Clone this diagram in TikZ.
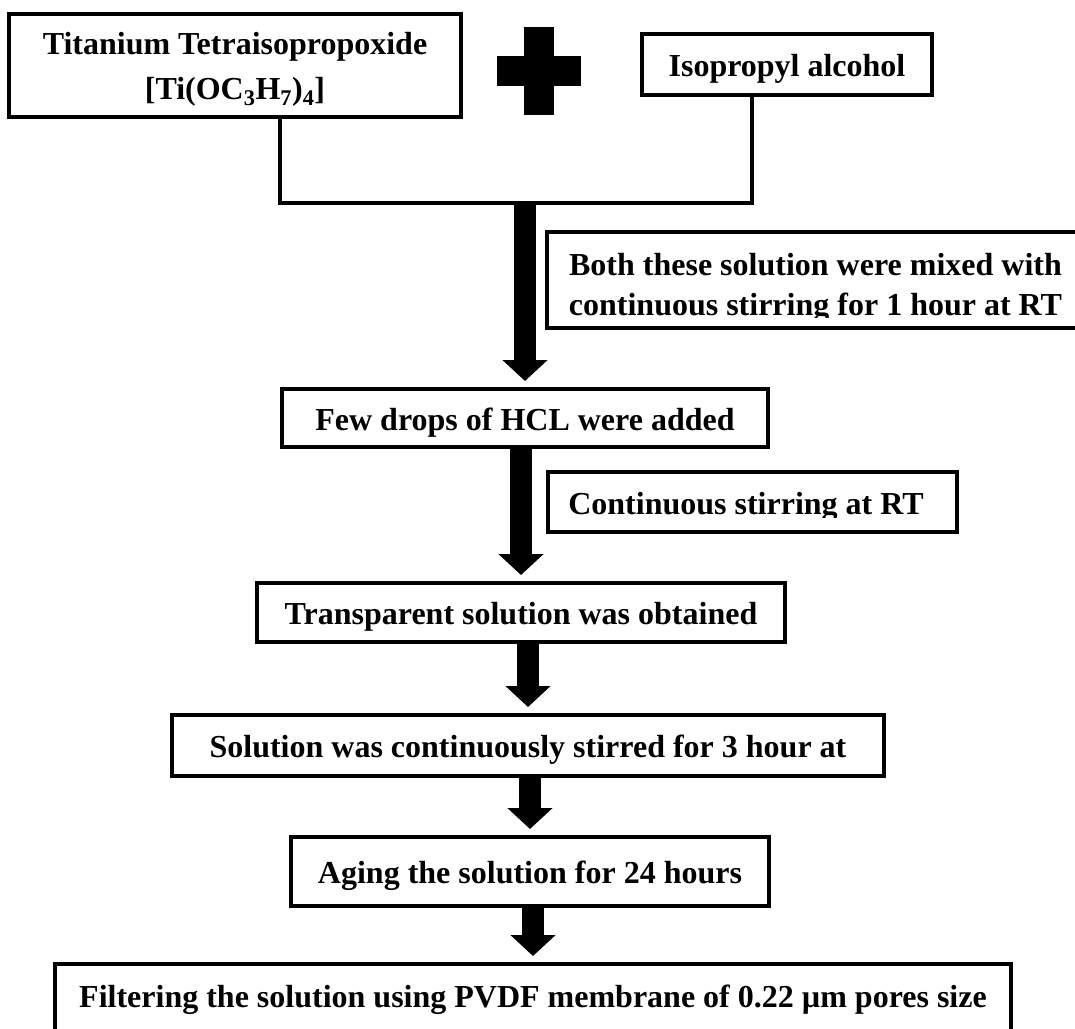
\documentclass[tikz,border=0pt]{standalone}
\usepackage{fontspec}
\setmainfont{Liberation Serif}
\usetikzlibrary{arrows.meta}

\begin{document}
\begin{tikzpicture}[x=1pt, y=-1pt,
    every node/.style={font=\fontsize{32}{45}\selectfont\bfseries},
    stepbox/.style={draw=black, line width=4pt, shape=rectangle, inner sep=0pt, align=center},
    oneline/.style={text height=24pt, text depth=0pt},
    notetext/.style={inner sep=0pt, align=center, font=\fontsize{32}{40}\selectfont\bfseries},
    link/.style={draw=black, line width=3.5pt},
    bigarrow/.style={line width=22pt, -{Triangle[width=44pt,length=21pt]}, shorten >=6pt}]
  \useasboundingbox (0,0) rectangle (1075,1028);
  \clip (0,0) rectangle (1075,1028);

  % starting materials
  \node[stepbox, minimum width=452pt, minimum height=103pt] (titp) at (235,65.5)
    {\rule{0pt}{29pt}Titanium Tetraisopropoxide\\ {[}Ti(OC\textsubscript{3}H\textsubscript{7})\textsubscript{4}]};
  \node[stepbox, oneline, minimum width=290pt, minimum height=61pt] (ipa) at (787,64.5) {Isopropyl alcohol};
  \fill (524,27) rectangle (554,115);
  \fill (497,56) rectangle (581,86);

  \coordinate (jl) at (280,203);
  \coordinate (jr) at (752,203);
  \draw[link] (titp.south -| jl) -- (jl) -- (jr) -- (ipa.south -| jr);

  % process steps
  \node[stepbox, oneline, minimum width=486pt, minimum height=58pt] (hcl) at (525,418) {Few drops of HCL were added};
  \node[stepbox, oneline, minimum width=528pt, minimum height=59pt] (trans) at (521,612.5) {Transparent solution was obtained};
  \node[stepbox, oneline, minimum width=712pt, minimum height=61pt] (stir3) at (528,745.5) {Solution was continuously stirred for 3 hour at};
  \node[stepbox, oneline, minimum width=478pt, minimum height=69pt] (aging) at (530,871.5) {Aging the solution for 24 hours};
  \node[stepbox, text height=0pt, text depth=10pt, minimum width=956pt, minimum height=96pt] (filt) at (533,1012)
    {Filtering the solution using PVDF membrane of 0.22 µm pores size};

  % side notes
  \node[stepbox, minimum width=537pt, minimum height=96pt] (mixnote) at (815.5,280) {};
  \begin{scope}
    \clip (mixnote.north west) rectangle (1075,317);
    \node[notetext, anchor=north] (mixtext) at (815.5,253.5)
      {Both these solution were mixed with\\continuous stirring for 1 hour at RT};
  \end{scope}
  \node[stepbox, minimum width=409pt, minimum height=60pt] (rtnote) at (752.5,502) {};
  \begin{scope}
    \clip (rtnote.north west) rectangle (rtnote.east |- 0,517);
    \node[notetext, anchor=base] (rttext) at (746,514) {Continuous stirring at RT};
  \end{scope}

  % arrows
  \draw[bigarrow] (hcl.north |- jl) -- (hcl.north);
  \draw[bigarrow] (hcl.south -| trans) -- (trans.north);
  \draw[bigarrow] (trans.south -| stir3) -- (stir3.north);
  \draw[bigarrow] (stir3.south -| aging) -- (aging.north);
  \draw[bigarrow] (aging.south -| filt) -- (filt.north);
\end{tikzpicture}
\end{document}
